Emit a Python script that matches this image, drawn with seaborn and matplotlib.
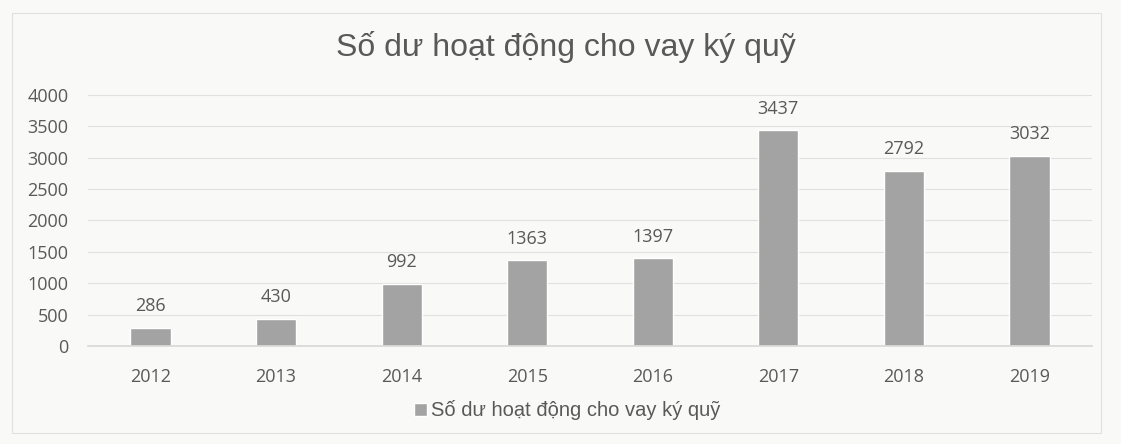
import matplotlib
matplotlib.use("Agg")
import matplotlib.pyplot as plt
import seaborn as sns
import pandas as pd
from matplotlib.patches import Rectangle

years = ["2012", "2013", "2014", "2015", "2016", "2017", "2018", "2019"]
values = [286, 430, 992, 1363, 1397, 3437, 2792, 3032]
series_name = "Số dư hoạt động cho vay ký quỹ"
title = "Số dư hoạt động cho vay ký quỹ"
yticks = [0, 500, 1000, 1500, 2000, 2500, 3000, 3500, 4000]

sns.set_theme(style="white")
plt.rcParams['font.family'] = ['Liberation Sans', 'DejaVu Sans']

bg = "#f9f9f7"
bar_color = "#a3a3a3"
text_color = "#595959"

df = pd.DataFrame({"year": years, "value": values})

fig = plt.figure(figsize=(11.21, 4.44), dpi=100, facecolor=bg)
ax = fig.add_axes([0.0783, 0.221, 0.896, 0.565])
ax.set_facecolor(bg)

sns.barplot(data=df, x="year", y="value", color=bar_color, width=0.32,
            saturation=1, ax=ax, label=series_name)

ax.set_ylim(0, 4000)
ax.set_yticks(yticks)
ax.set_yticklabels([str(t) for t in yticks])
ax.grid(axis="y", color="#e0e0e0", linewidth=0.8)
ax.set_axisbelow(True)
for s in ["top", "right", "left"]:
    ax.spines[s].set_visible(False)
ax.spines["bottom"].set_color("#d9d9d9")
ax.set_xlabel("")
ax.set_ylabel("")
ax.tick_params(axis="both", length=0, colors=text_color)
ax.tick_params(axis="x", pad=16)
ax.tick_params(axis="y", pad=14)
for lbl in ax.get_xticklabels() + ax.get_yticklabels():
    lbl.set_family(['Open Sans', 'DejaVu Sans'])
    lbl.set_fontsize(13)

for i, v in enumerate(values):
    ax.annotate(str(v), (i, v), xytext=(0, 9), textcoords="offset points",
                ha="center", va="bottom", color=text_color, fontsize=13,
                family=['Open Sans', 'DejaVu Sans'])

fig.text(0.505, 0.895, title, ha="center", va="center", fontsize=23,
         color=text_color)

leg = ax.legend(loc="center", bbox_to_anchor=(0.506, 0.076),
                bbox_transform=fig.transFigure, frameon=False,
                handlelength=0.6, handleheight=0.6, handletextpad=0.2,
                fontsize=14.5)
for t in leg.get_texts():
    t.set_color(text_color)

fig.patches.append(Rectangle((0.011, 0.025), 0.971, 0.945, transform=fig.transFigure,
                             fill=False, edgecolor="#e0e0e0", linewidth=0.8))

fig.savefig("out.png", dpi=100, facecolor=bg)
